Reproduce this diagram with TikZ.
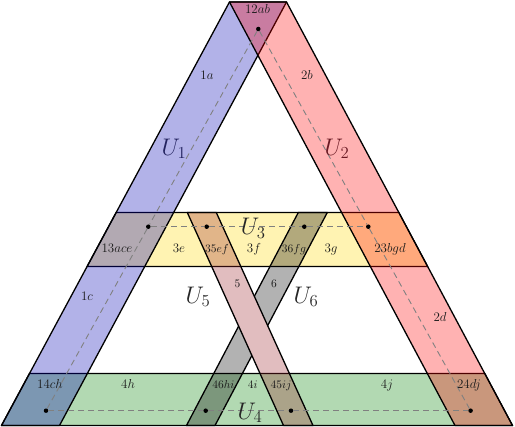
\RequirePackage{fix-cm}
\documentclass[tikz,border=0pt]{standalone}
\usetikzlibrary{calc}
\definecolor{cone}{RGB}{0,0,179}
\definecolor{ctwo}{RGB}{255,0,0}
\definecolor{cthree}{RGB}{255,215,0}
\definecolor{cfour}{RGB}{0,128,0}
\definecolor{cfive}{RGB}{158,38,45}
\definecolor{csix}{RGB}{0,0,0}
\definecolor{tone}{RGB}{35,35,95}
\definecolor{ttwo}{RGB}{105,25,35}
\begin{document}
\begin{tikzpicture}[x=1pt,y=-1pt,line join=round,
  band/.style={draw=black,line width=1.3pt,fill opacity=0.3,draw opacity=1},
  lab/.style={font=\fontsize{13}{15}\selectfont,text=black!90,inner sep=0pt,anchor=base},
  slab/.style={font=\fontsize{11.5}{13}\selectfont,text=black!90,inner sep=0pt,anchor=base},
  big/.style={font=\fontsize{24}{28}\selectfont,inner sep=0pt,text=black!85},
  dot/.style={circle,fill=black,inner sep=0pt,minimum size=4.5pt},
  nerve/.style={draw=gray,line width=0.9pt,dash pattern=on 6pt off 4pt}]
\useasboundingbox (0,0) rectangle (515,427);
% corners of the outer bands
\coordinate (A) at (229.5,2);
\coordinate (B) at (286.5,2);
\coordinate (C) at (1.5,425.5);
\coordinate (D) at (59.5,425.5);
\coordinate (E) at (455,425.5);
\coordinate (F) at (512.5,425.5);
% horizontal bands
\path[band,fill=cthree] ($(A)!0.49705!(C)$) -- ($(B)!0.49705!(F)$) -- ($(B)!0.62456!(F)$) -- ($(A)!0.62456!(C)$) -- cycle;
\path[band,fill=cfour] ($(A)!0.87721!(C)$) -- ($(B)!0.87721!(F)$) -- (F) -- (C) -- cycle;
% slanted outer bands
\path[band,fill=cone] (A) -- (B) -- (D) -- (C) -- cycle;
\path[band,fill=ctwo] (A) -- (B) -- (F) -- (E) -- cycle;
% crossing inner bands, U5 on top
\path[band,fill=csix] (298.3,212.5) -- (327.3,212.5) -- (215,425.5) -- (186.5,425.5) -- cycle;
\begin{scope}
  \clip (187.3,212.5) -- (216.3,212.5) -- (313,425.5) -- (283.5,425.5) -- cycle;
  \fill[white] (150,268) rectangle (350,371);
\end{scope}
\path[band,fill=cfive] (187.3,212.5) -- (216.3,212.5) -- (313,425.5) -- (283.5,425.5) -- cycle;
% dots of the nerve
\node[dot] (d12) at (258.3,29) {};
\node[dot] (d13) at (148.3,226.7) {};
\node[dot] (d35) at (206.7,226.7) {};
\node[dot] (d36) at (304.3,226.7) {};
\node[dot] (d23) at (368.3,226.7) {};
\node[dot] (d14) at (46,410.7) {};
\node[dot] (d46) at (205.7,410.7) {};
\node[dot] (d45) at (291,410.7) {};
\node[dot] (d24) at (470.6,410.7) {};
\draw[nerve] (d12) -- (d13) -- (d14);
\draw[nerve] (d12) -- (d23) -- (d24);
\draw[nerve] (d13) -- (d35) -- (d36) -- (d23);
\draw[nerve] (d14) -- (d46) -- (d45) -- (d24);
% labels
\node[lab] (l12ab) at (257.5,13.5) {$12ab$};
\node[lab] (l1a) at (207,80) {$1a$};
\node[lab] (l2b) at (307,80) {$2b$};
\node[big,text=tone] (u1) at (174,149) {$U_1$};
\node[big,text=ttwo] (u2) at (337,149) {$U_2$};
\node[lab] (l13ace) at (117,253) {$13ace$};
\node[lab] (l3e) at (179,253) {$3e$};
\node[slab] (l35ef) at (217,253) {$35ef$};
\node[lab] (l3f) at (254,253) {$3f$};
\node[slab] (l36fg) at (294,253) {$36fg$};
\node[lab] (l3g) at (331,253) {$3g$};
\node[lab] (l23bgd) at (390,253) {$23bgd$};
\node[big] (u3) at (253.3,228.5) {$U_3$};
\node[lab] (l1c) at (87,300.5) {$1c$};
\node[lab] (l2d) at (440,321.5) {$2d$};
\node[big] (u5) at (198,297) {$U_5$};
\node[big] (u6) at (306,297) {$U_6$};
\node[slab] (l5) at (237.5,288) {$5$};
\node[slab] (l6) at (274,288) {$6$};
\node[lab] (l14ch) at (50,388.5) {$14ch$};
\node[lab] (l4h) at (128,388.5) {$4h$};
\node[slab] (l46hi) at (223.3,388.5) {$46hi$};
\node[slab] (l4i) at (252.7,388.5) {$4i$};
\node[slab] (l45ij) at (281,388.5) {$45ij$};
\node[lab] (l4j) at (387,388.5) {$4j$};
\node[lab] (l24dj) at (469,388.5) {$24dj$};
\node[big] (u4) at (250,413) {$U_4$};
\end{tikzpicture}
\end{document}
